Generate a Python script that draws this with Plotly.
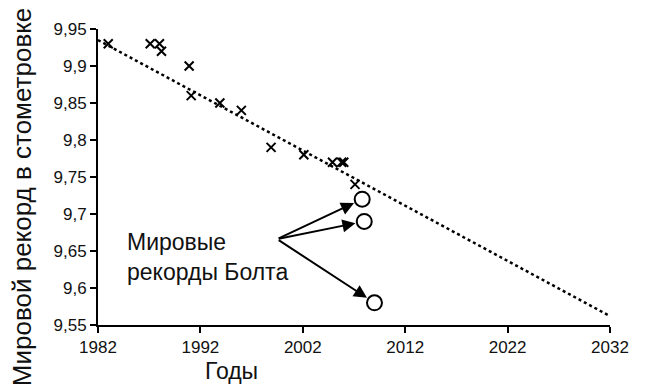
import plotly.graph_objects as go

# Data
record_years = [1983.0, 1987.1, 1988.0, 1988.2, 1990.9, 1991.1, 1993.9, 1996.0,
                1998.9, 2002.1, 2004.9, 2005.8, 2006.0, 2007.1]
record_times = [9.93, 9.93, 9.93, 9.92, 9.90, 9.86, 9.85, 9.84,
                9.79, 9.78, 9.77, 9.77, 9.77, 9.74]

bolt_years = [2007.8, 2008.0, 2009.0]
bolt_times = [9.72, 9.69, 9.58]

trend_years = [1982, 2032]
trend_times = [9.935, 9.562]

x_ticks = [1982, 1992, 2002, 2012, 2022, 2032]
y_ticks = [9.55, 9.6, 9.65, 9.7, 9.75, 9.8, 9.85, 9.9, 9.95]
y_tick_labels = ["9,55", "9,6", "9,65", "9,7", "9,75", "9,8", "9,85", "9,9", "9,95"]

label_text = "Мировые<br>рекорды Болта"
x_title = "Годы"
y_title = "Мировой рекорд в стометровке"
arrow_origin = (1999.5, 9.666)

FONT = "Liberation Sans, Arial, sans-serif"
TXT = "#111"

# Layout geometry (page has an 8px body margin)
OFF = 8
W, H = 650, 392
L, R, T, B = 90, 48, 16, 75
pw, ph = W - L - R, H - T - B


def px(xpage):
    return (xpage - OFF - L) / pw


def py(ypage):
    return (H - B - (ypage - OFF)) / ph


fig = go.Figure()
fig.add_trace(go.Scatter(x=trend_years, y=trend_times, mode="lines",
                         line=dict(color="black", width=2.5, dash="dot"),
                         hoverinfo="skip", cliponaxis=False))
fig.add_trace(go.Scatter(x=record_years, y=record_times, mode="markers",
                         marker=dict(symbol="x-thin", size=9,
                                     line=dict(color="black", width=2)),
                         cliponaxis=False))
fig.add_trace(go.Scatter(x=bolt_years, y=bolt_times, mode="markers",
                         marker=dict(symbol="circle-open", size=15, color="black",
                                     line=dict(color="black", width=2)),
                         cliponaxis=False))

annotations = []
for bx, by in zip(bolt_years, bolt_times):
    annotations.append(dict(x=bx, y=by, xref="x", yref="y",
                            ax=arrow_origin[0], ay=arrow_origin[1],
                            axref="x", ayref="y", text="", showarrow=True,
                            arrowhead=2, arrowsize=1.3, arrowwidth=2,
                            arrowcolor="black", standoff=9))
annotations.append(dict(x=px(125), y=py(256), xref="paper", yref="paper",
                        text=label_text, showarrow=False, align="left",
                        xanchor="left", yanchor="middle",
                        font=dict(family=FONT, size=23, color=TXT)))
annotations.append(dict(x=px(231), y=py(372), xref="paper", yref="paper",
                        text=x_title, showarrow=False, xanchor="center",
                        yanchor="middle",
                        font=dict(family=FONT, size=23, color=TXT)))
annotations.append(dict(x=px(22), y=py(195), xref="paper", yref="paper",
                        text=y_title, showarrow=False, textangle=-90,
                        xanchor="center", yanchor="middle",
                        font=dict(family=FONT, size=26, color=TXT)))
fig.update_layout(annotations=annotations)

fig.update_xaxes(range=[1982, 2032], tickvals=x_ticks, ticks="outside", ticklen=6,
                 tickwidth=2, tickcolor="black", showline=True, linecolor="black",
                 linewidth=2, showgrid=False, zeroline=False,
                 tickfont=dict(family=FONT, size=17, color=TXT))
fig.update_yaxes(range=[9.55, 9.95], tickvals=y_ticks, ticktext=y_tick_labels,
                 ticks="outside", ticklen=6, tickwidth=2, tickcolor="black",
                 showline=True, linecolor="black", linewidth=2, showgrid=False,
                 zeroline=False, tickfont=dict(family=FONT, size=17, color=TXT))
fig.update_layout(width=W, height=H, margin=dict(l=L, r=R, t=T, b=B),
                  plot_bgcolor="white", paper_bgcolor="white", showlegend=False)

fig.write_html("out.html")
